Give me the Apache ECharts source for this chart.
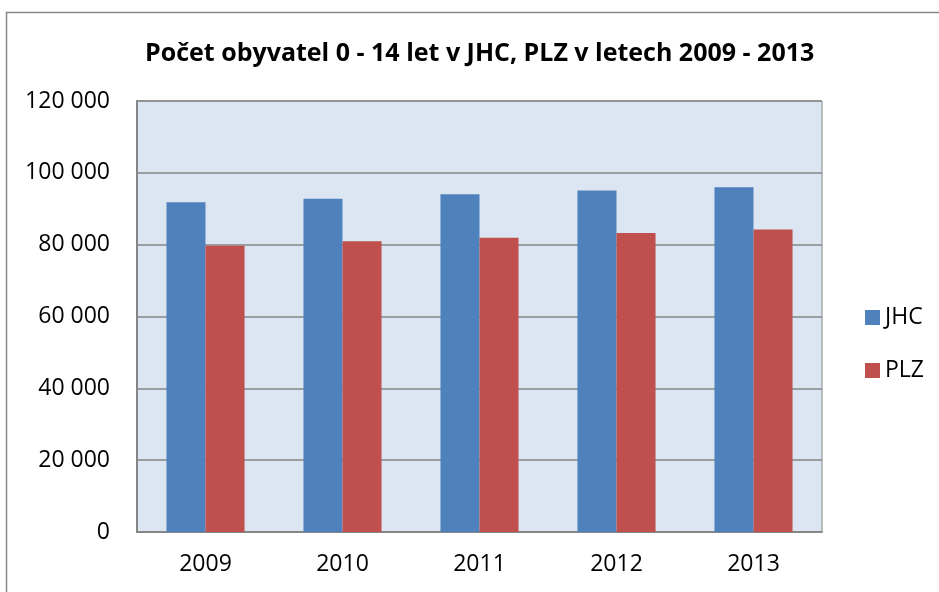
<!DOCTYPE html>
<html>
<head>
<meta charset="utf-8">
<script src="https://cdn.jsdelivr.net/npm/echarts@6/dist/echarts.min.js"></script>
<style>
  html, body { margin: 0; padding: 0; background: #fff; }
  #main { width: 939px; height: 592px; }
</style>
</head>
<body>
<div id="main"></div>
<script>
var titleText = "Počet obyvatel 0 - 14 let v JHC, PLZ v letech 2009 - 2013";
var years = ["2009", "2010", "2011", "2012", "2013"];
var jhc = [91800, 92750, 94050, 95050, 96000];
var plz = [79700, 80950, 81950, 83250, 84200];

var font = '"Open Sans", sans-serif';

var chartDom = document.getElementById("main");
var myChart = echarts.init(chartDom);
var option;

// mezery jako oddělovač tisíců
function fmt(v) {
  return String(v).replace(/\B(?=(\d{3})+(?!\d))/g, " ");
}

option = {
  animation: false,
  title: {
    text: titleText,
    left: 140,
    top: 36,
    textStyle: { fontFamily: font, fontWeight: "bold", fontSize: 25, color: "#000" },
  },
  graphic: [
    {
      type: "rect",
      left: 4,
      top: 10,
      shape: { width: 960, height: 620 },
      style: { fill: "none", stroke: "#868686", lineWidth: 1.5 },
      silent: true,
    },
  ],
  legend: {
    orient: "vertical",
    left: 860,
    top: 301,
    itemWidth: 15,
    itemHeight: 15,
    itemGap: 30,
    icon: "rect",
    textStyle: { fontFamily: font, fontSize: 23, color: "#000" },
    data: ["JHC", "PLZ"],
  },
  grid: {
    left: 137,
    right: 117,
    top: 101,
    bottom: 60,
    show: true,
    backgroundColor: "#DCE6F2",
    borderColor: "#868686",
    borderWidth: 1,
  },
  xAxis: {
    type: "category",
    data: years,
    axisLine: { lineStyle: { color: "#868686", width: 2 } },
    axisTick: { show: false },
    axisLabel: { fontFamily: font, fontSize: 23, color: "#000", margin: 21 },
  },
  yAxis: {
    type: "value",
    min: 0,
    max: 120000,
    interval: 20000,
    axisLine: { show: true, lineStyle: { color: "#868686", width: 2 } },
    axisTick: { show: false },
    splitLine: { lineStyle: { color: "#868686", width: 1.5 } },
    axisLabel: { fontFamily: font, fontSize: 23, color: "#000", margin: 27, formatter: fmt },
  },
  series: [
    {
      name: "JHC",
      type: "bar",
      data: jhc,
      barGap: "0%",
      barCategoryGap: "43%",
      itemStyle: { color: "#4F81BD" },
    },
    {
      name: "PLZ",
      type: "bar",
      data: plz,
      itemStyle: { color: "#C0504D" },
    },
  ],
};

option && myChart.setOption(option);
</script>
</body>
</html>
